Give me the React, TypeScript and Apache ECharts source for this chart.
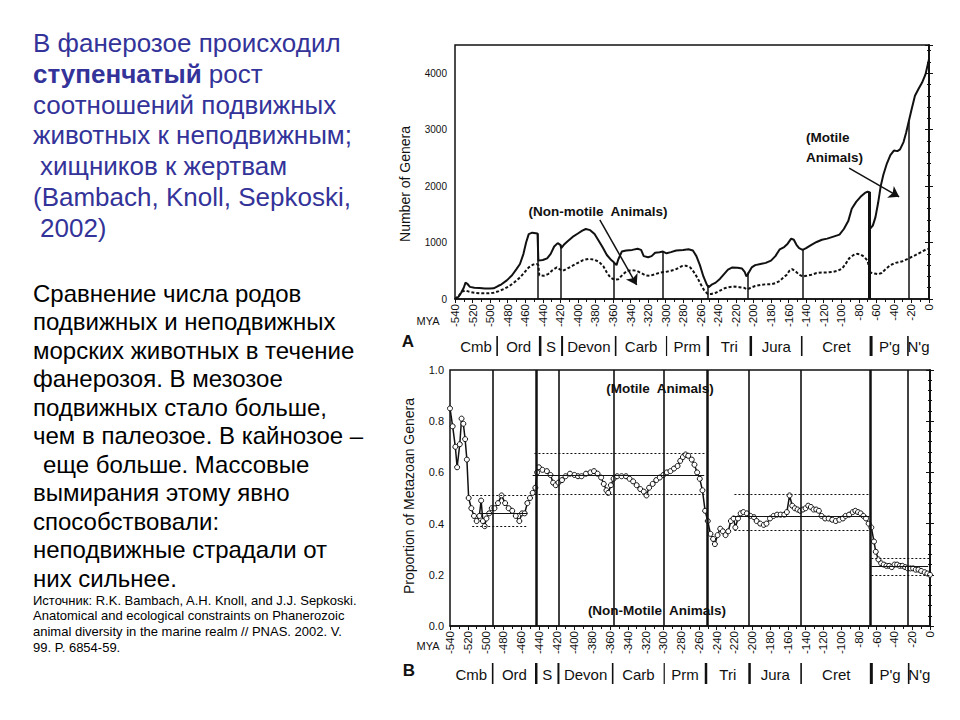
import React, { useEffect, useRef } from "react";
import * as echarts from "echarts";

const FONT = '"Liberation Sans", Arial, Helvetica, sans-serif';
const INK = "#111";

// ---- Panel A: number of genera ----
const aYears = [-540, -536, -533, -530, -528, -526, -523, -518, -512, -506, -500, -496, -491, -487, -481, -475, -470, -466, -462, -459, -456, -452, -448, -446, -445, -440, -435, -431, -427, -423, -420, -419, -416, -412, -406, -400, -395, -391, -386, -381, -377, -372, -367, -362, -359, -356, -354, -350, -345, -338, -332, -328, -325, -320, -316, -312, -307, -303, -299, -294, -288, -280, -274, -269, -265, -261, -257, -253, -251, -247, -243, -238, -233, -229, -224, -218, -213, -210, -208, -206, -202, -198, -192, -186, -180, -175, -170, -165, -161, -157, -154, -151, -148, -144, -140, -134, -128, -122, -116, -108, -102, -97, -92, -88, -83, -78, -73, -70, -68, -67, -64, -61, -58, -55, -52, -48, -44, -40, -36, -33, -29, -26, -23, -20, -16, -12, -8, -4, 0];
const aMotile = [0, 40, 110, 200, 290, 270, 215, 200, 195, 185, 185, 190, 230, 260, 330, 420, 530, 620, 800, 1000, 1150, 1175, 1165, 1160, 680, 690, 720, 800, 930, 990, 960, 900, 960, 1020, 1100, 1160, 1210, 1240, 1220, 1150, 1050, 920, 780, 690, 650, 600, 700, 840, 860, 870, 890, 870, 760, 740, 760, 820, 830, 840, 810, 830, 860, 870, 880, 860, 760, 600, 400, 250, 210, 260, 290, 360, 450, 520, 560, 555, 540, 480, 400, 450, 560, 600, 620, 640, 680, 760, 880, 920, 980, 1070, 1050, 960, 900, 870, 900, 960, 1010, 1050, 1070, 1110, 1140, 1240, 1380, 1600, 1720, 1810, 1880, 1900, 1890, 1250, 1300, 1450, 1700, 2000, 2200, 2400, 2550, 2630, 2620, 2650, 2780, 2950, 3150, 3350, 3600, 3720, 3830, 3980, 4250];
const aNmYears = [-540, -536, -532, -528, -524, -518, -510, -502, -496, -490, -484, -478, -472, -466, -461, -456, -451, -447, -445, -444, -439, -434, -429, -424, -420, -417, -412, -406, -400, -394, -388, -382, -376, -371, -367, -363, -358, -354, -349, -344, -338, -333, -328, -323, -318, -312, -306, -300, -294, -288, -282, -277, -272, -268, -264, -260, -256, -252, -248, -243, -238, -233, -228, -222, -216, -211, -207, -203, -198, -192, -186, -180, -175, -170, -166, -162, -159, -156, -152, -148, -144, -140, -134, -128, -122, -116, -110, -104, -99, -95, -91, -86, -82, -78, -74, -70, -67, -62, -58, -54, -50, -44, -38, -30, -23, -15, -8, -3, 0];
const aNonMotile = [0, 50, 130, 150, 130, 110, 100, 100, 110, 140, 180, 230, 300, 380, 470, 560, 610, 620, 600, 420, 410, 440, 510, 560, 520, 500, 540, 590, 640, 690, 710, 700, 660, 580, 470, 380, 340, 350, 430, 500, 510, 500, 460, 420, 410, 440, 470, 480, 500, 530, 580, 590, 560, 480, 380, 260, 150, 90, 90, 110, 150, 190, 210, 220, 210, 200, 170, 200, 230, 250, 260, 260, 280, 320, 380, 430, 500, 530, 490, 430, 400, 410, 430, 460, 470, 470, 480, 500, 540, 620, 720, 780, 800, 790, 750, 680, 470, 450, 440, 460, 520, 600, 640, 670, 720, 780, 840, 880, 890];
const aBoundaryYears = [-446, -419, -359, -303, -252, -207, -144, -68, -23];
const aBoundaryTops = [1160, 960, 650, 840, 250, 470, 880, 1900, 3150];

// ---- Panel B: proportion of motile genera ----
const bYears = [-540, -537, -534, -532, -529, -527, -525, -523, -521, -519, -516, -513, -510, -507, -505, -503, -501, -499, -496, -493, -490, -486, -482, -478, -474, -470, -466, -462, -459, -456, -453, -450, -447, -444, -442, -440, -436, -431, -427, -424, -421, -418, -414, -410, -405, -400, -396, -392, -387, -382, -378, -374, -370, -367, -364, -362, -359, -356, -352, -347, -342, -338, -334, -330, -326, -322, -319, -316, -312, -308, -304, -300, -296, -292, -288, -284, -281, -278, -275, -272, -268, -265, -262, -259, -256, -253, -250, -247, -244, -242, -239, -236, -233, -230, -227, -224, -221, -219, -216, -213, -210, -206, -202, -198, -195, -191, -187, -184, -180, -176, -172, -168, -164, -161, -158, -155, -152, -149, -146, -143, -140, -137, -134, -131, -128, -125, -122, -118, -114, -110, -106, -102, -98, -95, -91, -87, -84, -81, -78, -75, -72, -69, -66, -63, -61, -58, -55, -52, -49, -46, -43, -40, -37, -34, -31, -28, -25, -22, -19, -16, -13, -10, -6, -3, 0];
const bMotile = [0.85, 0.78, 0.7, 0.62, 0.71, 0.81, 0.79, 0.73, 0.65, 0.5, 0.46, 0.43, 0.41, 0.43, 0.49, 0.41, 0.39, 0.42, 0.44, 0.46, 0.46, 0.48, 0.51, 0.48, 0.46, 0.45, 0.43, 0.41, 0.44, 0.44, 0.48, 0.5, 0.52, 0.54, 0.6, 0.62, 0.61, 0.605, 0.59, 0.56, 0.55, 0.56, 0.57, 0.585, 0.595, 0.59, 0.585, 0.585, 0.595, 0.6, 0.605, 0.595, 0.58, 0.555, 0.53, 0.52, 0.55, 0.575, 0.585, 0.585, 0.585, 0.575, 0.565, 0.55, 0.535, 0.525, 0.51, 0.54, 0.555, 0.57, 0.58, 0.59, 0.6, 0.605, 0.615, 0.625, 0.645, 0.66, 0.67, 0.665, 0.65, 0.63, 0.6, 0.575, 0.53, 0.45, 0.41, 0.36, 0.34, 0.32, 0.355, 0.38, 0.37, 0.355, 0.37, 0.41, 0.42, 0.385, 0.42, 0.44, 0.445, 0.44, 0.43, 0.425, 0.41, 0.4, 0.395, 0.4, 0.42, 0.43, 0.435, 0.435, 0.435, 0.445, 0.51, 0.47, 0.46, 0.455, 0.45, 0.455, 0.46, 0.47, 0.465, 0.455, 0.455, 0.45, 0.43, 0.42, 0.42, 0.415, 0.41, 0.415, 0.42, 0.43, 0.435, 0.445, 0.45, 0.445, 0.44, 0.43, 0.42, 0.4, 0.385, 0.33, 0.29, 0.26, 0.245, 0.24, 0.235, 0.235, 0.23, 0.24, 0.24, 0.235, 0.235, 0.23, 0.225, 0.225, 0.225, 0.22, 0.22, 0.215, 0.21, 0.205, 0.2];
const bBoundaryYears = [-492, -443, -418, -356, -299, -251, -204, -145, -67, -25];
const bSegStart = [-507, -447, -222, -66];
const bSegEnd = [-453, -254, -68, -2];
const bDotStart = [-515, -445, -220, -66];
const bDotEnd = [-454, -253, -68, 0];
const bMean = [0.44, 0.59, 0.43, 0.235];
const bUpper = [0.51, 0.675, 0.515, 0.265];
const bLower = [0.39, 0.515, 0.375, 0.2];

// ---- Geologic periods ----
const periods = ["Cmb", "Ord", "S", "Devon", "Carb", "Prm", "Tri", "Jura", "Cret", "P'g", "N'g"];
const periodBounds = [-540, -492, -443, -418, -357, -299, -252, -203, -145, -66, -24, 0];

// ---- Slide texts ----
const titleLines = ["В фанерозое происходил", "{b|ступенчатый} рост", "соотношений подвижных", "животных к неподвижным;", " хищников к жертвам", "(Bambach, Knoll, Sepkoski,", " 2002)"];
const bodyLines = ["Сравнение числа родов", "подвижных и неподвижных", "морских животных в течение", "фанерозоя. В мезозое", "подвижных стало больше,", "чем в палеозое. В кайнозое –", " еще больше. Массовые", "вымирания этому явно", "способствовали:", "неподвижные страдали от", "них сильнее."];
const sourceLines = ["Источник: R.K. Bambach, A.H. Knoll, and J.J. Sepkoski.", "Anatomical and ecological constraints on Phanerozoic", "animal diversity in the marine realm // PNAS. 2002. V.", "99. P. 6854-59."];

const GA = { left: 455, top: 45, width: 474, height: 254 };
const GB = { left: 450, top: 370, width: 480, height: 256 };

function textEl(x: number, y: number, text: string, font: string, fill: string, align = "left", extra: any = {}) {
  return {
    type: "text",
    x,
    y,
    silent: true,
    ...extra,
    style: {
      text,
      font,
      fill,
      align,
      verticalAlign: "middle",
      textAlign: align,
      textVerticalAlign: "middle",
    },
  };
}

function lineEl(x1: number, y1: number, x2: number, y2: number, w: number) {
  return { type: "line", silent: true, shape: { x1, y1, x2, y2 }, style: { stroke: INK, lineWidth: w } };
}

function periodRow(g: { left: number; width: number }, yText: number, ySep1: number, ySep2: number, sepWidths: number[]) {
  const els: any[] = [];
  const toPx = (v: number) => g.left + ((v + 540) / 540) * g.width;
  periods.forEach((p, i) => {
    const mid = (periodBounds[i] + periodBounds[i + 1]) / 2;
    els.push(textEl(toPx(mid), yText, p, `15px ${FONT}`, INK, "center"));
  });
  for (let i = 1; i < periodBounds.length - 1; i++) {
    const px = toPx(periodBounds[i]);
    els.push(lineEl(px, ySep1, px, ySep2, sepWidths[i - 1]));
  }
  return els;
}

function axisSet(gridIndex: number, yMin: number, yMax: number, yInterval: number, fmt: (v: number) => string, minorSplit: number, labelSize: number, labelMargin: number) {
  const common = {
    gridIndex,
    type: "value",
    min: yMin,
    max: yMax,
    interval: yInterval,
    splitLine: { show: false },
    axisLine: { show: true, lineStyle: { color: INK, width: 1.5 } },
    axisTick: { show: true, length: 4, lineStyle: { color: INK, width: 1 } },
    minorTick: { show: true, splitNumber: minorSplit, length: 2, lineStyle: { color: INK, width: 1 } },
  };
  return [
    {
      ...common,
      position: "left",
      axisLabel: { show: true, formatter: fmt, fontSize: labelSize, fontFamily: FONT, color: INK, margin: labelMargin, showMaxLabel: true },
    },
    { ...common, position: "right", axisLabel: { show: false } },
  ];
}

function xAxisFor(gridIndex: number) {
  return {
    gridIndex,
    type: "value",
    min: -540,
    max: 0,
    interval: 20,
    splitLine: { show: false },
    axisLine: { show: true, onZero: false, lineStyle: { color: INK, width: 1.5 } },
    axisTick: { show: true, length: 4, lineStyle: { color: INK, width: 1 } },
    minorTick: { show: true, splitNumber: 2, length: 3, lineStyle: { color: INK, width: 1 } },
    axisLabel: {
      rotate: 90,
      formatter: (v: number) => String(v),
      fontSize: 11.5,
      fontFamily: FONT,
      color: INK,
      margin: 5,
      showMinLabel: true,
      showMaxLabel: true,
    },
  };
}

export default function App() {
  const ref = useRef<HTMLDivElement>(null);

  useEffect(() => {
    document.body.style.margin = "0";
    if (!ref.current) return;
    const chart = echarts.init(ref.current, undefined, { renderer: "svg" });

    const aSolid = aYears.map((y, i) => [y, aMotile[i]]);
    const aDashed = aNmYears.map((y, i) => [y, aNonMotile[i]]);
    const bSolid = bYears.map((y, i) => [y, bMotile[i]]);

    const aThick = new Set([-68]);
    const aVert = aBoundaryYears.map((y, i) => [
      { coord: [y, 0], lineStyle: { color: INK, width: aThick.has(y) ? 3 : 1.5, type: "solid" } },
      { coord: [y, aBoundaryTops[i]] },
    ]);

    const bThick = new Set([-443, -251, -67]);
    const bVert = bBoundaryYears.map((y) => ({
      xAxis: y,
      lineStyle: { color: INK, width: bThick.has(y) ? 2.5 : 1.6, type: "solid" },
    }));

    const bMeans: any[] = [];
    bMean.forEach((m, i) => {
      bMeans.push([
        { coord: [bSegStart[i], m], lineStyle: { color: INK, width: 1.2, type: "solid" } },
        { coord: [bSegEnd[i], m] },
      ]);
      bMeans.push([
        { coord: [bDotStart[i], bUpper[i]], lineStyle: { color: INK, width: 1.2, type: [2, 2] } },
        { coord: [bDotEnd[i], bUpper[i]] },
      ]);
      bMeans.push([
        { coord: [bDotStart[i], bLower[i]], lineStyle: { color: INK, width: 1.2, type: [2, 2] } },
        { coord: [bDotEnd[i], bLower[i]] },
      ]);
    });

    const arrows = [
      [{ coord: [-375, 1400] }, { coord: [-333, 250] }],
      [{ coord: [-91, 2320] }, { coord: [-34, 1810] }],
    ];

    const graphics: any[] = [];
    const TS = 26;
    titleLines.forEach((t, i) => {
      const indent = t.startsWith(" ");
      graphics.push({
        type: "text",
        x: indent ? 40 : 33,
        y: 43 + i * 30.8,
        silent: true,
        style: {
          text: t.trim(),
          font: `${TS}px ${FONT}`,
          fill: "#333399",
          align: "left",
          verticalAlign: "middle",
          textAlign: "left",
          textVerticalAlign: "middle",
          rich: { b: { font: `bold ${TS}px ${FONT}`, fill: "#333399", fontWeight: "bold", fontSize: TS, fontFamily: FONT } },
        },
      });
    });
    bodyLines.forEach((t, i) => {
      const indent = t.startsWith(" ");
      graphics.push(textEl(indent ? 43 : 33, 293 + i * 28.5, t.trim(), `24px ${FONT}`, "#000"));
    });
    sourceLines.forEach((t, i) => {
      graphics.push(textEl(33, 600 + i * 15.8, t, `13px ${FONT}`, "#000"));
    });

    graphics.push(textEl(405, 184, "Number of Genera", `14px ${FONT}`, INK, "center", { rotation: Math.PI / 2 }));
    graphics.push(textEl(409, 496, "Proportion of Metazoan Genera", `14px ${FONT}`, INK, "center", { rotation: Math.PI / 2 }));
    graphics.push(textEl(428, 321, "MYA", `11px ${FONT}`, INK, "center"));
    graphics.push(textEl(428, 646, "MYA", `11px ${FONT}`, INK, "center"));
    graphics.push(textEl(408, 341, "A", `bold 17px ${FONT}`, INK, "center"));
    graphics.push(textEl(409, 670, "B", `bold 17px ${FONT}`, INK, "center"));
    graphics.push(textEl(598, 211, "(Non-motile  Animals)", `bold 13.5px ${FONT}`, INK, "center"));
    graphics.push(textEl(806, 137, "(Motile", `bold 13.5px ${FONT}`, INK, "left"));
    graphics.push(textEl(806, 157, "Animals)", `bold 13.5px ${FONT}`, INK, "left"));
    graphics.push(textEl(660, 388, "(Motile  Animals)", `bold 13.5px ${FONT}`, INK, "center"));
    graphics.push(textEl(657, 610, "(Non-Motile  Animals)", `bold 13.5px ${FONT}`, INK, "center"));

    const sepW = [1.6, 2.5, 2, 1.6, 1.2, 2.5, 2.5, 1.6, 3, 1.6];
    graphics.push(...periodRow(GA, 346, 336, 356, sepW));
    graphics.push(...periodRow(GB, 674, 663, 684, sepW));

    const yA = axisSet(0, 0, 4500, 1000, (v: number) => (v % 1000 === 0 ? String(v) : ""), 5, 10, 8);
    const yB = axisSet(1, 0, 1, 0.2, (v: number) => v.toFixed(1), 5, 11, 6);

    chart.setOption({
      animation: false,
      backgroundColor: "#fff",
      grid: [
        { ...GA, show: true, borderColor: INK, borderWidth: 1.5, backgroundColor: "transparent" },
        { ...GB, show: true, borderColor: INK, borderWidth: 1.5, backgroundColor: "transparent" },
      ],
      xAxis: [xAxisFor(0), xAxisFor(1)],
      yAxis: [...yA, ...yB],
      series: [
        {
          name: "Motile (A)",
          type: "line",
          xAxisIndex: 0,
          yAxisIndex: 0,
          data: aSolid,
          showSymbol: false,
          lineStyle: { color: INK, width: 2 },
          itemStyle: { color: INK },
          silent: true,
          markLine: { silent: true, symbol: "none", label: { show: false }, data: aVert },
        },
        {
          name: "Non-motile (A)",
          type: "line",
          xAxisIndex: 0,
          yAxisIndex: 0,
          data: aDashed,
          showSymbol: false,
          lineStyle: { color: INK, width: 2, type: [3, 2] },
          itemStyle: { color: INK },
          silent: true,
          markLine: {
            silent: true,
            symbol: ["none", "arrow"],
            symbolSize: 10,
            label: { show: false },
            lineStyle: { color: INK, width: 1.5, type: "solid" },
            data: arrows,
          },
        },
        {
          name: "Motile proportion (B)",
          type: "line",
          xAxisIndex: 1,
          yAxisIndex: 2,
          data: bSolid,
          showSymbol: true,
          symbol: "circle",
          symbolSize: 5,
          lineStyle: { color: INK, width: 1.5 },
          itemStyle: { color: "#fff", borderColor: INK, borderWidth: 1 },
          silent: true,
          z: 3,
          markLine: { silent: true, symbol: "none", label: { show: false }, data: bVert },
        },
        {
          name: "Means (B)",
          type: "line",
          xAxisIndex: 1,
          yAxisIndex: 2,
          data: [],
          silent: true,
          markLine: { silent: true, symbol: "none", label: { show: false }, data: bMeans },
        },
      ],
      graphic: { elements: graphics },
    });

    return () => chart.dispose();
  }, []);

  return <div ref={ref} style={{ position: "absolute", left: 0, top: 0, width: 960, height: 720 }} />;
}
